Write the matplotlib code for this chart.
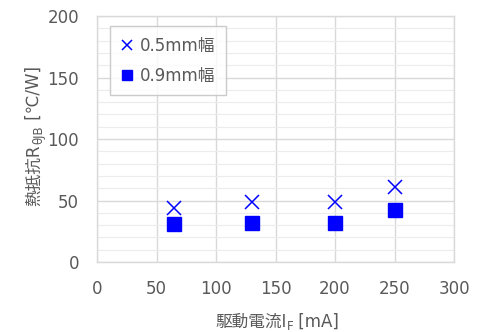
import matplotlib
matplotlib.use("Agg")
import matplotlib.pyplot as plt
from matplotlib.ticker import MultipleLocator

FAM = ['DejaVu Sans', 'Noto Sans CJK JP']
plt.rcParams['font.family'] = FAM

current = [65, 130, 200, 250]
r_05mm = [44, 48.5, 48.5, 61]
r_09mm = [31, 32, 32, 42]
labels = ['0.5mm幅', '0.9mm幅']
xlabel_parts = [('駆動電流I', False), ('F', True), (' [mA]', False)]
ylabel_parts = [('熱抵抗R', False), ('θJB', True), (' [℃/W]', False)]

gray = '#595959'
grid = '#d9d9d9'
W, H = 486, 332

fig = plt.figure(figsize=(4.86, 3.32), dpi=100)
ax = fig.add_axes([0.1996, 0.2108, 0.7346, 0.741])

ax.plot(current, r_05mm, linestyle='none', marker='x', color='#0000ff',
        markersize=9.5, markeredgewidth=1.1, label=labels[0], zorder=3)
ax.plot(current, r_09mm, linestyle='none', marker='s', color='#0000ff',
        markersize=10, label=labels[1], zorder=3)

ax.set_xlim(0, 300)
ax.set_ylim(0, 200)
ax.xaxis.set_major_locator(MultipleLocator(50))
ax.yaxis.set_major_locator(MultipleLocator(50))
ax.yaxis.set_minor_locator(MultipleLocator(10))
ax.grid(True, which='major', color=grid, linewidth=1.0, zorder=0)
ax.grid(True, which='minor', axis='y', color='#ececec', linewidth=0.8, zorder=0)
ax.set_axisbelow(True)
for s in ax.spines.values():
    s.set_color(grid)
    s.set_linewidth(1.0)
ax.tick_params(which='both', length=0, colors=gray, labelsize=12)
ax.tick_params(axis='x', pad=13)
ax.tick_params(axis='y', pad=13)

leg = ax.legend(loc='upper left', bbox_to_anchor=(0.036, 0.959), fontsize=12,
                frameon=True, fancybox=False, edgecolor='#bfbfbf',
                handlelength=0.8, handletextpad=0.35, borderpad=0.65,
                borderaxespad=0, labelspacing=0.7, markerscale=0.75)
for t in leg.get_texts():
    t.set_color(gray)
leg.get_frame().set_linewidth(1.0)


def draw_label(parts, cx, cy, rotation, size=12, subsize=8.5, subshift=4.5):
    """Draw a label made of normal and subscript pieces, centred at pixel (cx, cy from top)."""
    renderer = fig.canvas.get_renderer()
    texts = []
    lengths = []
    for s, sub in parts:
        t = fig.text(0, 0, s, fontsize=subsize if sub else size, color=gray,
                     family=FAM, rotation=rotation, ha='left', va='center',
                     rotation_mode='anchor')
        bb = t.get_window_extent(renderer=renderer)
        lengths.append(bb.height if rotation == 90 else bb.width)
        texts.append((t, sub))
    total = sum(lengths)
    pos = -total / 2.0
    for (t, sub), L in zip(texts, lengths):
        off = subshift if sub else 0.0
        if rotation == 90:
            px = cx + off
            py = (H - cy) + pos
        else:
            px = cx + pos
            py = (H - cy) - off
        t.set_position((px / W, py / H))
        pos += L


draw_label(xlabel_parts, 277, 322, 0)
draw_label(ylabel_parts, 34, 136, 90)

fig.savefig('out.png', dpi=100)
